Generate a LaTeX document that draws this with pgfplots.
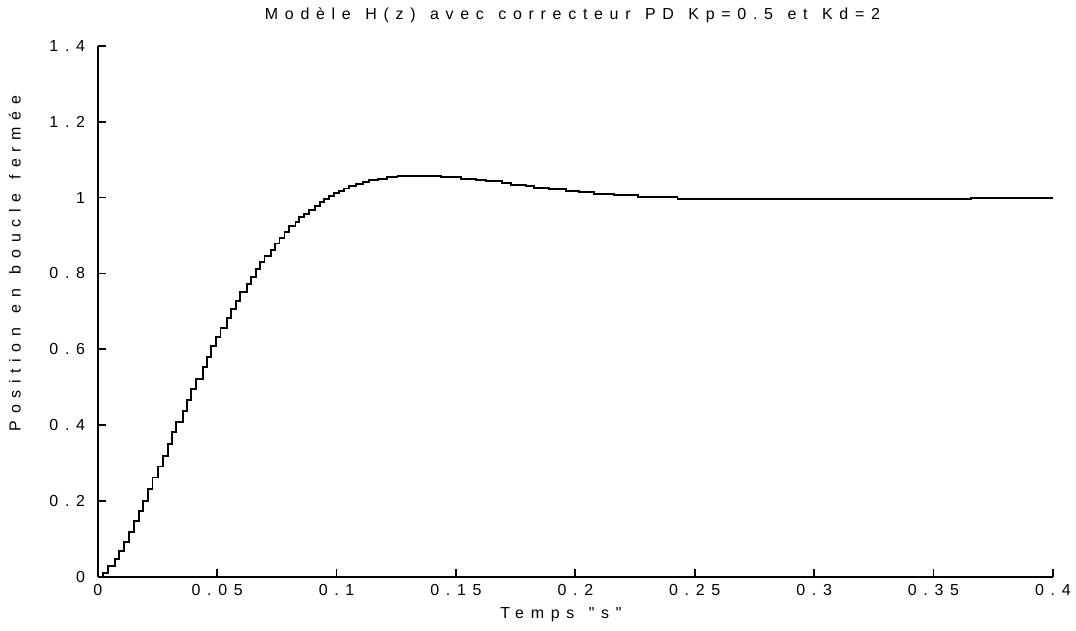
\documentclass[border=0pt]{standalone}
\usepackage{pgfplots}
\pgfplotsset{compat=1.18}
\usepackage{fontspec}
\setmainfont{Liberation Sans}[LetterSpace=42, WordSpace=1.3]

\begin{document}
\fontsize{8pt}{9.6pt}\selectfont
\begin{tikzpicture}
\begin{axis}[
    scale only axis,
    width=478.5pt, height=266pt,
    xmin=0, xmax=0.4, ymin=0, ymax=1.4,
    axis lines=left,
    axis line style={-, line width=0.9pt},
    tick align=inside,
    major tick length=4pt,
    tick style={line width=0.9pt, black},
    xtick={0,0.05,0.1,0.15,0.2,0.25,0.3,0.35,0.4},
    xticklabels={0,0.05,0.1,0.15,0.2,0.25,0.3,0.35,0.4},
    ytick={0,0.2,0.4,0.6,0.8,1,1.2,1.4},
    yticklabels={0,0.2,0.4,0.6,0.8,1,1.2,1.4},
    /pgf/number format/assume math mode=true,
    ticklabel style={font=\fontsize{8pt}{9.6pt}\selectfont},
    xticklabel style={yshift=-1pt},
    yticklabel style={xshift=-3.5pt},
    title={Modèle H(z) avec correcteur PD Kp=0.5 et Kd=2},
    every axis title/.style={at={(axis description cs:0.497,1.058)}, anchor=center},
    xlabel={Temps \textquotedbl\kern0.42em s\kern0.42em\textquotedbl},
    every axis x label/.style={at={(axis description cs:0.485,-0.072)}, anchor=center},
    ylabel={Position en boucle fermée},
    every axis y label/.style={at={(axis description cs:-0.087,0.59)}, anchor=center, rotate=90},
    clip=false,
]
\addplot[const plot, black, line width=0.95pt, mark=none] coordinates {
(0,0)
(0.0022,0.010) (0.0043,0.028) (0.0071,0.047) (0.0089,0.069) (0.0110,0.091)
(0.0131,0.119) (0.0152,0.148) (0.0173,0.174) (0.0189,0.201) (0.0210,0.232)
(0.0229,0.262) (0.0252,0.291) (0.0273,0.319) (0.0294,0.350) (0.0312,0.381)
(0.0329,0.409) (0.0357,0.438) (0.0375,0.467) (0.0392,0.495) (0.0413,0.521)
(0.0440,0.554) (0.0457,0.580) (0.0475,0.609) (0.0496,0.633) (0.0514,0.657)
(0.0540,0.683) (0.0559,0.707) (0.0580,0.727) (0.0596,0.751) (0.0624,0.771)
(0.0642,0.791) (0.0663,0.812) (0.0680,0.830) (0.0698,0.846) (0.0726,0.861)
(0.0744,0.879) (0.0761,0.894) (0.0782,0.909) (0.0800,0.924) (0.0828,0.935)
(0.0844,0.949) (0.0865,0.957) (0.0883,0.968) (0.0911,0.977) (0.0932,0.988)
(0.0949,0.997) (0.0970,1.004) (0.0991,1.011) (0.1011,1.018) (0.1032,1.024)
(0.1052,1.030) (0.1081,1.037) (0.1109,1.041) (0.1137,1.046) (0.1172,1.050)
(0.1213,1.054) (0.1255,1.058) (0.1437,1.054) (0.1520,1.050) (0.1583,1.046)
(0.1625,1.043) (0.1693,1.039) (0.1729,1.034) (0.1792,1.030) (0.1827,1.025)
(0.1889,1.022) (0.1959,1.018) (0.2015,1.014) (0.2077,1.010) (0.2161,1.006)
(0.2262,1.001) (0.2428,0.997) (0.3658,1.000) (0.4,1.000)
};
\end{axis}
\path[use as bounding box] ([xshift=-49pt,yshift=-27pt]current axis.origin) rectangle ++(538pt,316pt);
\end{tikzpicture}
\end{document}
